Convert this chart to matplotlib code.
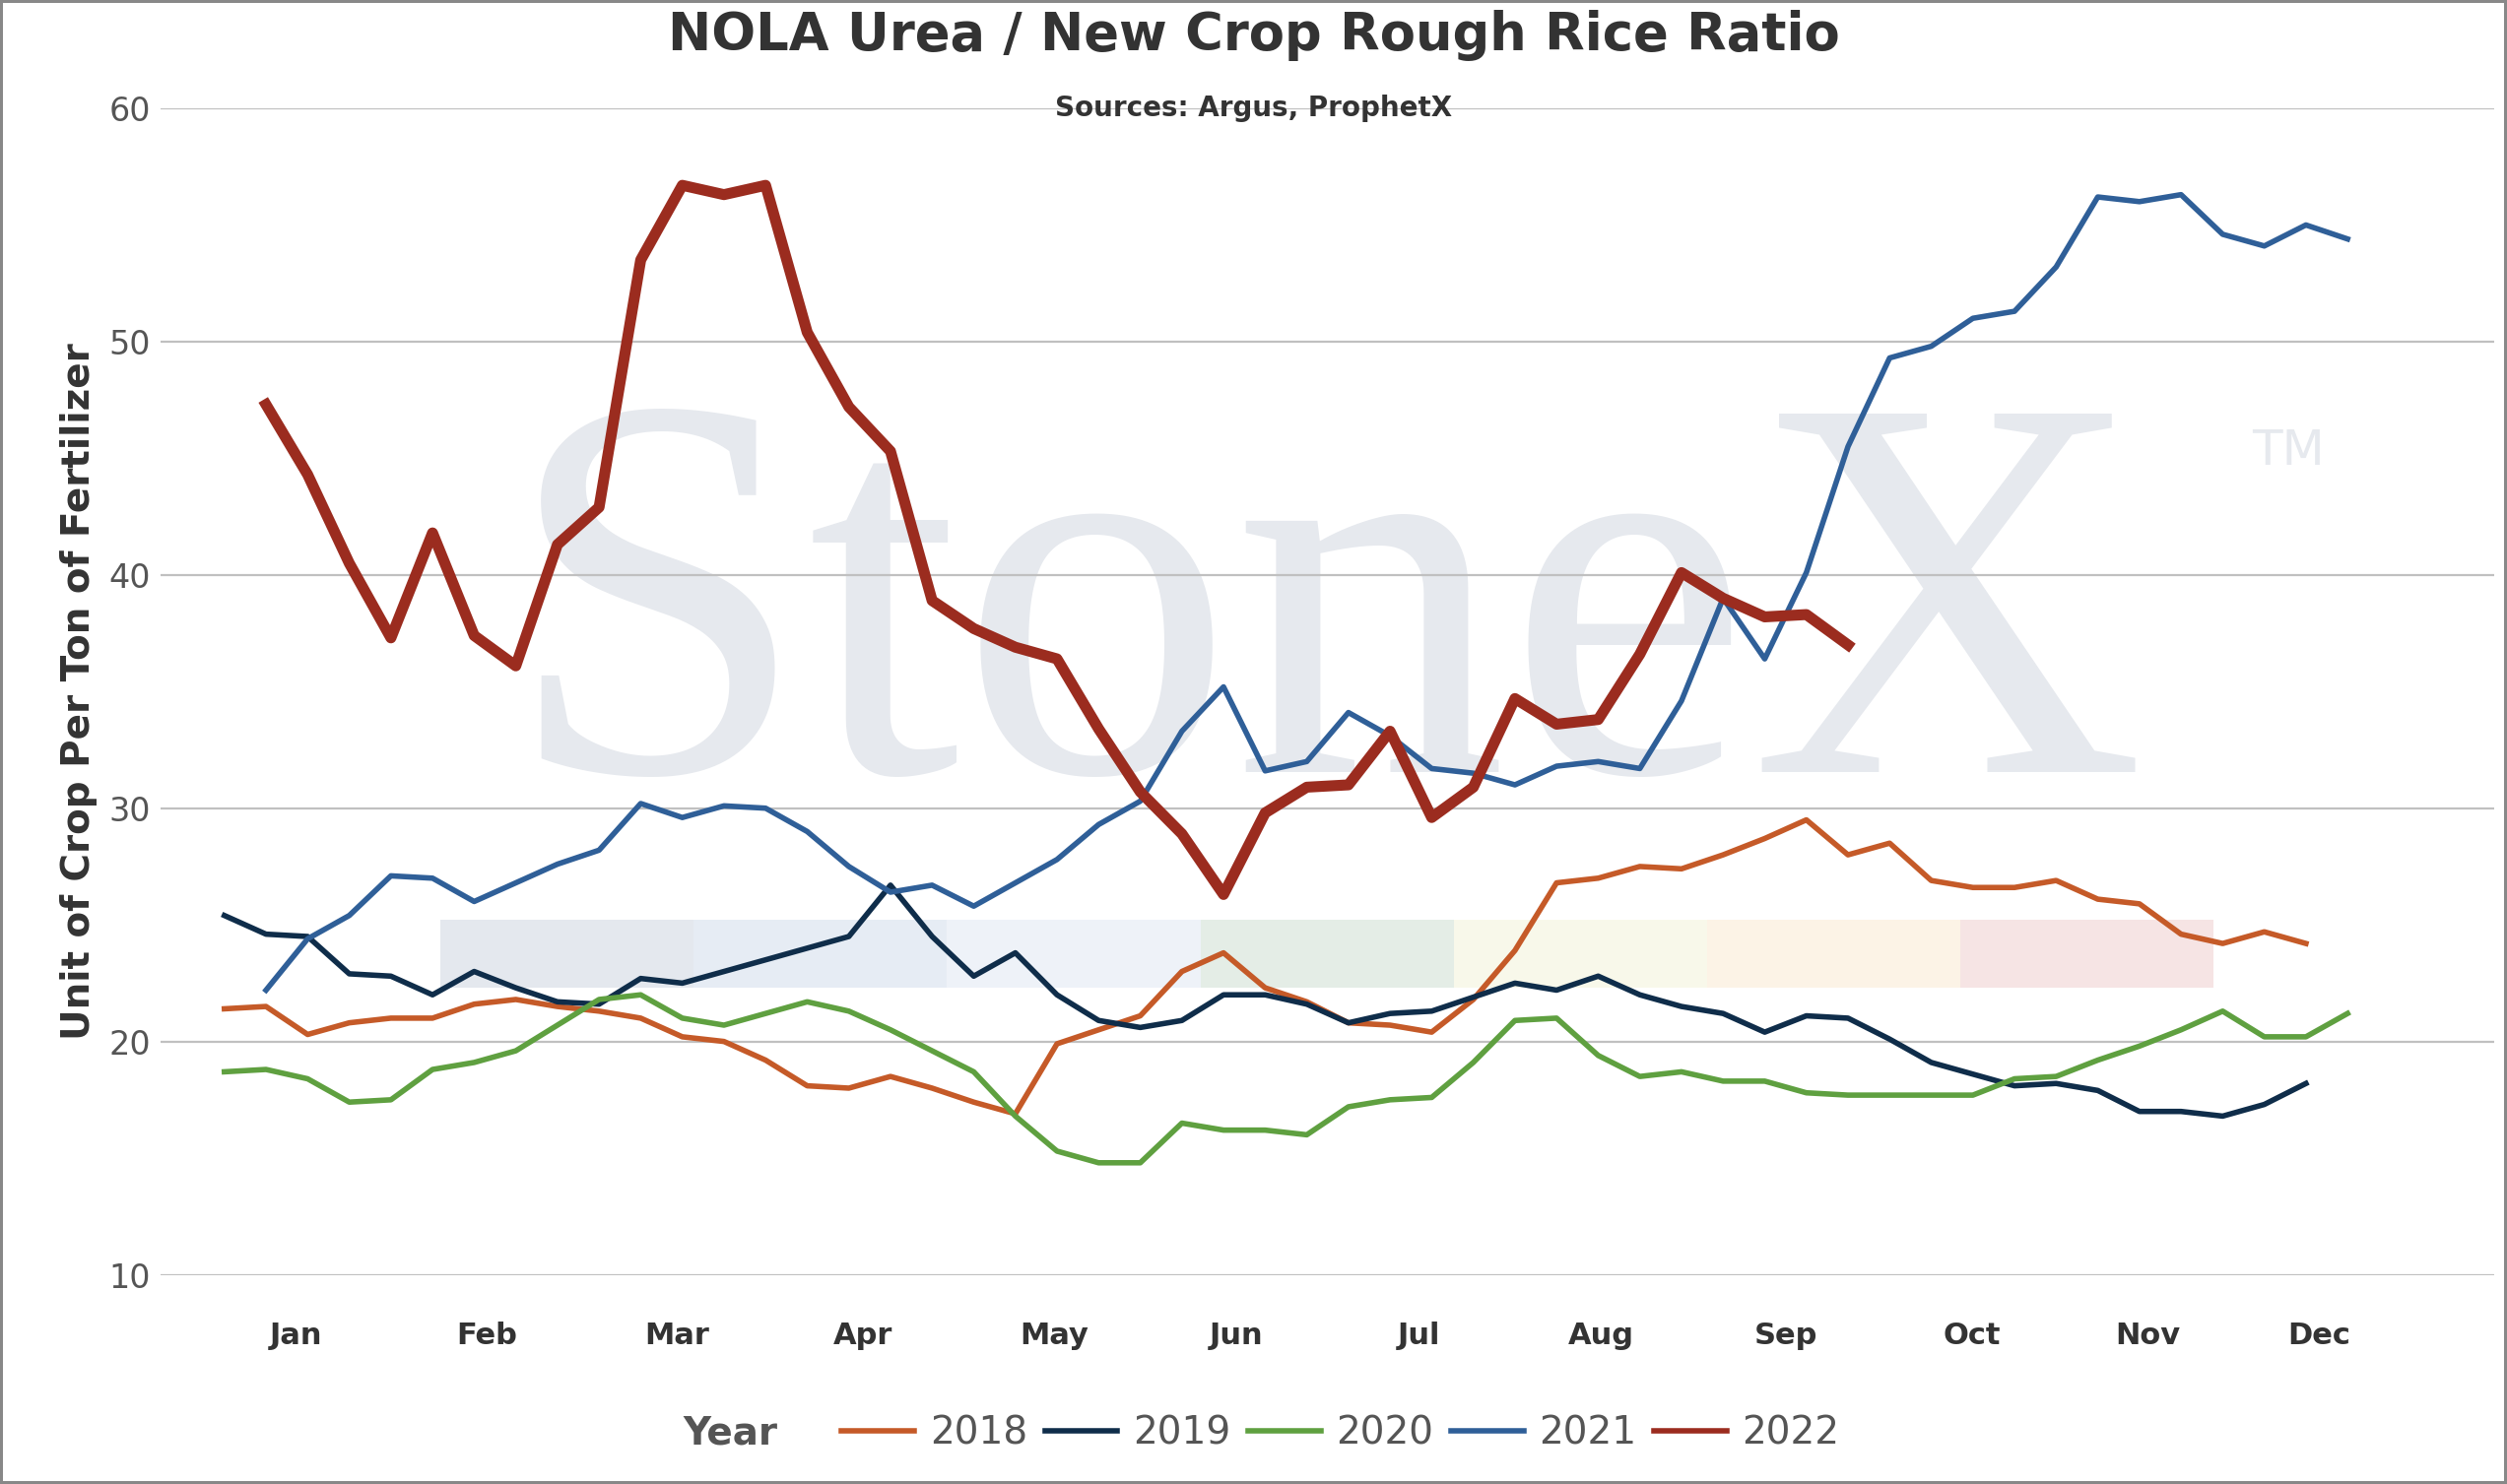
import numpy as np
import matplotlib.pyplot as plt
import pandas as pd

def build_data():
    ratios = {
        "2018": [21.4, 21.5, 20.3, 20.8, 21.0, 21.0, 21.6, 21.8, 21.5, 21.3, 21.0, 20.2, 20.0, 19.2, 18.1, 18.0,
                 18.5, 18.0, 17.4, 16.9, 19.9, 20.5, 21.1, 23.0, 23.8, 22.3, 21.7, 20.8, 20.7, 20.4, 21.8, 23.9,
                 26.8, 27.0, 27.5, 27.4, 28.0, 28.7, 29.5, 28.0, 28.5, 26.9, 26.6, 26.6, 26.9, 26.1, 25.9, 24.6,
                 24.2, 24.7, 24.2],
        "2019": [25.4, 24.6, 24.5, 22.9, 22.8, 22.0, 23.0, 22.3, 21.7, 21.6, 22.7, 22.5, 23.0, 23.5, 24.0, 24.5,
                 26.7, 24.5, 22.8, 23.8, 22.0, 20.9, 20.6, 20.9, 22.0, 22.0, 21.6, 20.8, 21.2, 21.3, 21.9, 22.5,
                 22.2, 22.8, 22.0, 21.5, 21.2, 20.4, 21.1, 21.0, 20.1, 19.1, 18.6, 18.1, 18.2, 17.9, 17.0, 17.0,
                 16.8, 17.3, 18.2],
        "2020": [18.7, 18.8, 18.4, 17.4, 17.5, 18.8, 19.1, 19.6, 20.7, 21.8, 22.0, 21.0, 20.7, 21.2, 21.7, 21.3,
                 20.5, 19.6, 18.7, 16.8, 15.3, 14.8, 14.8, 16.5, 16.2, 16.2, 16.0, 17.2, 17.5, 17.6, 19.1, 20.9,
                 21.0, 19.4, 18.5, 18.7, 18.3, 18.3, 17.8, 17.7, 17.7, 17.7, 17.7, 18.4, 18.5, 19.2, 19.8, 20.5,
                 21.3, 20.2, 20.2, 21.2],
        "2021": [np.nan, 22.2, 24.4, 25.4, 27.1, 27.0, 26.0, 26.8, 27.6, 28.2, 30.2, 29.6, 30.1, 30.0, 29.0, 27.5,
                 26.4, 26.7, 25.8, 26.8, 27.8, 29.3, 30.3, 33.3, 35.2, 31.6, 32.0, 34.1, 33.1, 31.7, 31.5, 31.0,
                 31.8, 32.0, 31.7, 34.6, 39.0, 36.4, 40.1, 45.5, 49.3, 49.8, 51.0, 51.3, 53.2, 56.2, 56.0, 56.3,
                 54.6, 54.1, 55.0, 54.4],
        "2022": [np.nan, 47.3, 44.3, 40.5, 37.3, 41.8, 37.4, 36.1, 41.3, 42.9, 53.5, 56.7, 56.3, 56.7, 50.4, 47.2,
                 45.3, 38.9, 37.7, 36.9, 36.4, 33.4, 30.7, 28.9, 26.3, 29.8, 30.9, 31.0, 33.3, 29.6, 30.9, 34.7,
                 33.6, 33.8, 36.6, 40.1, 39.0, 38.2, 38.3, 37.0],
    }
    frames = []
    for year, vals in ratios.items():
        s = pd.Series(vals, index=3 + 7 * np.arange(len(vals)), name=year)
        frames.append(s)
    return pd.concat(frames, axis=1)

def plot_ratio(df):
    """ Plot the urea / rice ratio by year """
    fig = plt.figure(figsize=(12.725, 7.535), dpi=200)
    ax = fig.add_axes([0.064, 0.141, 0.931, 0.786])

    # watermark and colour strip
    ax.text(188, 37.2, "StoneX", family="Liberation Serif", fontsize=200, color="#e6e9ee",
            ha="center", va="center", zorder=0)
    ax.text(350, 45.3, "TM", fontsize=18, color="#e6e9ee", ha="center", va="center", zorder=0)
    strip = ["#e4e8ee", "#e6ecf4", "#eef2f8", "#e4ede6", "#f8f8ea", "#fcf3e6", "#f6e4e4"]
    for i, c in enumerate(strip):
        ax.axvspan(39.3 + i * 42.6, 39.3 + (i + 1) * 42.6, ymin=(22.3 - 10) / 50, ymax=(25.2 - 10) / 50,
                   color=c, lw=0, zorder=0)

    colors = {"2018": "#c55a28", "2019": "#0f2d4a", "2020": "#5fa040", "2021": "#2f5f98", "2022": "#9b2c1f"}
    for year in df.columns:
        s = df[year].dropna()
        ax.plot(s.index, s.values, color=colors[year], lw=4 if year == "2022" else 2,
                label=year, zorder=3)

    ax.set_xlim(-7.75, 384.7)
    ax.set_ylim(10, 60)
    ax.set_yticks(range(10, 61, 10))
    ax.grid(axis="y", color="#c0c0c0", lw=0.8)
    mids = [15.1, 47.1, 79.1, 110.3, 142.5, 173.2, 203.8, 234.5, 265.6, 296.8, 326.4, 355.2]
    ax.set_xticks(mids)
    ax.set_xticklabels(["Jan", "Feb", "Mar", "Apr", "May", "Jun", "Jul", "Aug", "Sep", "Oct", "Nov", "Dec"],
                       fontweight="bold", fontsize=11, color="#333333")
    ax.tick_params(axis="x", length=0, pad=17)
    ax.tick_params(axis="y", length=0, labelsize=12, labelcolor="#555555")
    for side in ax.spines.values():
        side.set_visible(False)
    ax.set_ylabel("Unit of Crop Per Ton of Fertilizer", fontsize=14, fontweight="bold", color="#333333")

    fig.text(0.5, 0.976, "NOLA Urea / New Crop Rough Rice Ratio", ha="center", va="center", fontsize=19,
             fontweight="bold", color="#333333")
    fig.text(0.5, 0.927, "Sources: Argus, ProphetX", ha="center", va="center", fontsize=10, fontweight="bold",
             color="#333333")
    leg = fig.legend(loc="center left", bbox_to_anchor=(0.322, 0.034), ncol=5, frameon=False,
                     fontsize=14, handlelength=1.9, columnspacing=0.45, handletextpad=0.4)
    for t in leg.get_texts():
        t.set_color("#555555")
    for h in leg.get_lines():
        h.set_linewidth(2)
    fig.text(0.31, 0.034, "Year", ha="right", va="center", fontsize=14, fontweight="bold", color="#555555")
    fig.patch.set_edgecolor("#888888")
    fig.patch.set_linewidth(1.5)
    fig.savefig("out.png")

df = build_data()
plot_ratio(df)
